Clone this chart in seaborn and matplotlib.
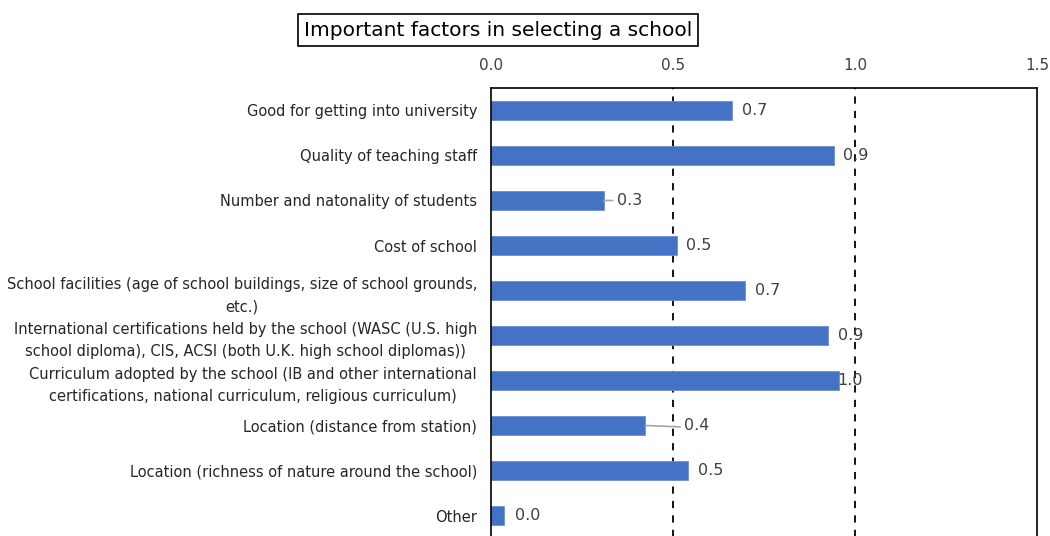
import matplotlib
matplotlib.use("Agg")
import matplotlib.pyplot as plt
import seaborn as sns
import pandas as pd

categories = [
    "Good for getting into university",
    "Quality of teaching staff",
    "Number and natonality of students",
    "Cost of school",
    "School facilities (age of school buildings, size of school grounds,\netc.)",
    "International certifications held by the school (WASC (U.S. high\nschool diploma), CIS, ACSI (both U.K. high school diplomas))",
    "Curriculum adopted by the school (IB and other international\ncertifications, national curriculum, religious curriculum)",
    "Location (distance from station)",
    "Location (richness of nature around the school)",
    "Other",
]
values = [0.662, 0.941, 0.31, 0.511, 0.697, 0.927, 0.957, 0.424, 0.541, 0.035]
x_ticks = [0.0, 0.5, 1.0, 1.5]
title = "Important factors in selecting a school"

# label offsets in pixels from bar end (style)
label_offsets = [10, 9, 13, 9, 10, 10, -2, 39, 10, 11]
leader_lines = {2, 7}

sns.set_theme(style="white")
plt.rcParams['font.family'] = ['DejaVu Sans']

df = pd.DataFrame({"category": categories, "value": values})

fig = plt.figure(figsize=(10.5, 5.36), dpi=100)
ax = fig.add_axes([491 / 1050, -2 / 536, (1037 - 491) / 1050, 450 / 536])

sns.barplot(data=df, x="value", y="category", orient="h", color="#4472C4",
            saturation=1, width=0.44, ax=ax, edgecolor="#6b8fd3", linewidth=0.6)

ax.set_xlim(0, 1.5)
ax.set_ylim(9.5, -0.5)
ax.set_xlabel("")
ax.set_ylabel("")
ax.xaxis.tick_top()
ax.set_xticks(x_ticks)
ax.set_xticklabels([f"{t:.1f}" for t in x_ticks])
ax.tick_params(axis="x", length=0, pad=11, labelsize=11, labelcolor="#404040")
ax.tick_params(axis="y", length=0, pad=10, labelsize=10.5, labelcolor="#262626")
for lbl in ax.get_yticklabels():
    lbl.set_multialignment("center")
    lbl.set_linespacing(1.6)

for xv in [0.5, 1.0]:
    ax.axvline(xv, color="black", linestyle=(0, (4, 4)), linewidth=1.3, zorder=0)

for s in ax.spines.values():
    s.set_visible(True)
    s.set_color("black")
    s.set_linewidth(1.2)

for i, v in enumerate(values):
    off = label_offsets[i]
    ax.annotate(f"{v:.1f}", xy=(v, i), xytext=(off * 0.72, 0), textcoords="offset points",
                ha="left", va="center", fontsize=11.5, color="#404040", zorder=5)
    if i in leader_lines:
        ax.annotate("", xy=(v, i), xytext=(off * 0.72 - 3, -1 if i == 7 else 0),
                    textcoords="offset points",
                    arrowprops=dict(arrowstyle="-", color="#a6a6a6", lw=1.2,
                                    shrinkA=0, shrinkB=0))

fig.text(498 / 1050, 1 - 30 / 536, title, ha="center", va="center", fontsize=14.5,
         color="black",
         bbox=dict(boxstyle="square,pad=0.3", facecolor="white", edgecolor="black", linewidth=1.2))

fig.savefig("out.png", dpi=100)
